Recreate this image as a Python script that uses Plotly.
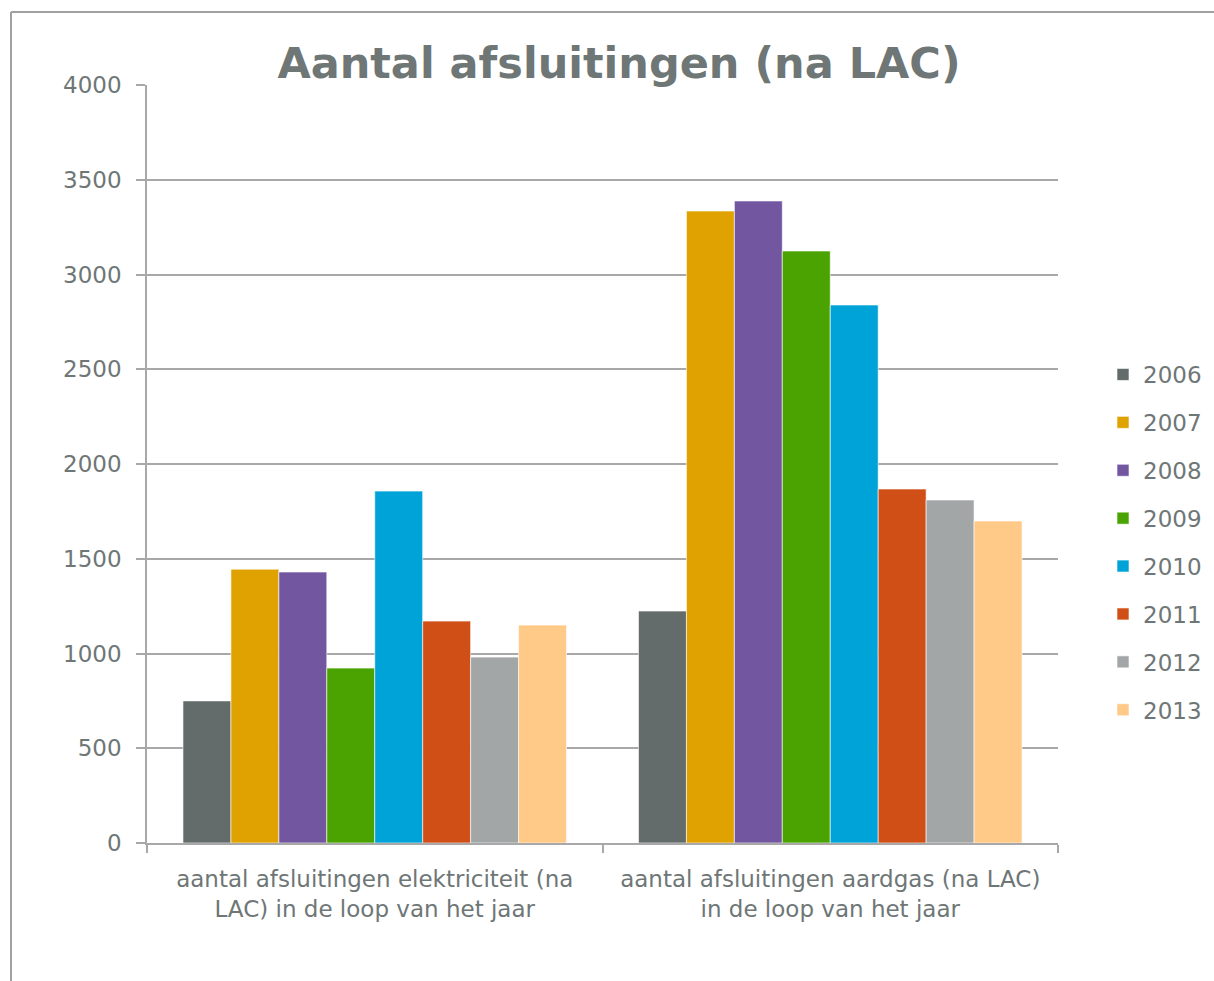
import plotly.graph_objects as go

categories = [
    "aantal afsluitingen elektriciteit (na<br>LAC) in de loop van het jaar",
    "aantal afsluitingen aardgas (na LAC)<br>in de loop van het jaar",
]
years = ["2006", "2007", "2008", "2009", "2010", "2011", "2012", "2013"]
elektriciteit = [750, 1445, 1430, 923, 1857, 1171, 981, 1150]
aardgas = [1224, 3335, 3388, 3124, 2839, 1868, 1810, 1699]
colors = ["#646B6B", "#E0A200", "#7257A0", "#4AA300", "#00A3D7", "#D04F16", "#A3A6A7", "#FFC987"]

W, H = 1214, 981
L, R, T, B = 147, 1058, 85, 843
text_color = "#6E7676"
grid_color = "#A8A8A8"
font_family = "DejaVu Sans"

fig = go.Figure()
for i, y in enumerate(years):
    fig.add_trace(go.Bar(
        name=y,
        x=categories,
        y=[elektriciteit[i], aardgas[i]],
        marker=dict(color=colors[i], line=dict(color="rgba(255,255,255,0.6)", width=1)),
        legendgroup=y,
    ))

fig.update_layout(
    width=W, height=H,
    margin=dict(l=L, r=W - R, t=T, b=H - B),
    paper_bgcolor="white", plot_bgcolor="white",
    barmode="group", bargap=0.158, bargroupgap=0,
    font=dict(family=font_family, color=text_color, size=23),
    title=dict(
        text="<b>Aantal afsluitingen (na LAC)</b>",
        x=619 / W, xanchor="center", xref="container",
        y=1 - 63 / H, yanchor="middle", yref="container",
        font=dict(size=43, color=text_color, family=font_family),
    ),
    legend=dict(
        x=1103 / W, xref="container", xanchor="left",
        y=1 - 353 / H, yref="container", yanchor="top",
        font=dict(size=23, color=text_color),
        tracegroupgap=15, itemwidth=30,
        bgcolor="rgba(0,0,0,0)",
    ),
    showlegend=True,
)
fig.update_yaxes(
    range=[0, 4000], dtick=500,
    showgrid=True, gridcolor=grid_color, gridwidth=1.5,
    showline=True, linecolor=grid_color, linewidth=1.5,
    ticks="outside", ticklen=9, tickcolor=grid_color, tickwidth=1.5,
    tickfont=dict(size=23, color=text_color),
    zeroline=False, ticklabelstandoff=10,
)
fig.update_xaxes(
    showline=True, linecolor=grid_color, linewidth=1.5,
    ticks="outside", tickson="boundaries", ticklen=8, tickcolor=grid_color, tickwidth=1.5,
    tickfont=dict(size=23, color=text_color),
    showgrid=False, ticklabelstandoff=15,
)
# outer chart frame (left and top edges visible only)
fig.add_shape(
    type="line", xref="paper", yref="paper",
    x0=(11 - L) / (R - L), x1=(11 - L) / (R - L),
    y0=(B - (H + 40)) / (B - T), y1=(B - 12) / (B - T),
    line=dict(color="#A0A0A0", width=2), layer="below",
)
fig.add_shape(
    type="line", xref="paper", yref="paper",
    x0=(11 - L) / (R - L), x1=(W + 40 - L) / (R - L),
    y0=(B - 12) / (B - T), y1=(B - 12) / (B - T),
    line=dict(color="#A0A0A0", width=2), layer="below",
)

fig.write_html(
    "out.html",
    config={"displayModeBar": False},
    post_script="document.body.style.margin='0';",
)
